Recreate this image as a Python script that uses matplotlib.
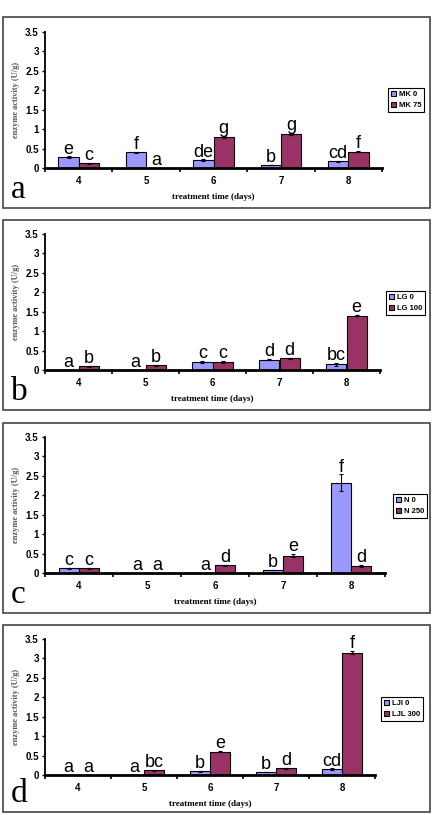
import matplotlib
matplotlib.use("Agg")
import matplotlib.pyplot as plt
from matplotlib.patches import Rectangle
import numpy as np

days = ["4", "5", "6", "7", "8"]

# panel a
mk0 = [0.28, 0.40, 0.20, 0.08, 0.17]
mk0_err = [0.02, 0.02, 0.02, 0.01, 0.02]
mk0_let = ["e", "f", "de", "b", "cd"]
mk75 = [0.12, 0.0, 0.80, 0.87, 0.42]
mk75_err = [0.01, 0.0, 0.02, 0.03, 0.02]
mk75_let = ["c", "a", "g", "g", "f"]

# panel b
lg0 = [0.0, 0.0, 0.20, 0.27, 0.15]
lg0_err = [0.0, 0.0, 0.03, 0.02, 0.04]
lg0_let = ["a", "a", "c", "d", "bc"]
lg100 = [0.10, 0.12, 0.20, 0.30, 1.40]
lg100_err = [0.01, 0.01, 0.03, 0.02, 0.02]
lg100_let = ["b", "b", "c", "d", "e"]

# panel c
n0 = [0.12, 0.0, 0.0, 0.08, 2.32]
n0_err = [0.02, 0.0, 0.0, 0.01, 0.22]
n0_let = ["c", "a", "a", "b", "f"]
n250 = [0.12, 0.0, 0.20, 0.45, 0.18]
n250_err = [0.02, 0.0, 0.01, 0.04, 0.02]
n250_let = ["c", "a", "d", "e", "d"]

# panel d
ljl0 = [0.0, 0.0, 0.10, 0.08, 0.15]
ljl0_err = [0.0, 0.0, 0.01, 0.01, 0.02]
ljl0_let = ["a", "a", "b", "b", "cd"]
ljl300 = [0.0, 0.12, 0.60, 0.17, 3.15]
ljl300_err = [0.0, 0.01, 0.02, 0.01, 0.04]
ljl300_let = ["a", "bc", "e", "d", "f"]

panels = [
    ("a", "MK 0", mk0, mk0_err, mk0_let, "MK 75", mk75, mk75_err, mk75_let),
    ("b", "LG 0", lg0, lg0_err, lg0_let, "LG 100", lg100, lg100_err, lg100_let),
    ("c", "N 0", n0, n0_err, n0_let, "N 250", n250, n250_err, n250_let),
    ("d", "LJl 0", ljl0, ljl0_err, ljl0_let, "LJL 300", ljl300, ljl300_err, ljl300_let),
]

# pixel layout: box (top, bottom), axes (x0, x1, ytop, ybot), legend (x0, ycenter)
boxes = [(17, 208), (220, 410), (423, 613), (625, 812)]
axboxes = [(45, 382, 32, 168), (45, 380, 234, 370), (45, 385, 437, 573), (45, 375, 639, 775)]
legpos = [(384, 100), (382, 303), (389, 506), (377, 709)]

W, H = 437, 815
fig = plt.figure(figsize=(W / 100, H / 100), dpi=100)

c0 = "#9999ff"
c1 = "#993366"
sans = "Liberation Sans"
serif = "Liberation Serif"

for i, (tag, n_a, v_a, e_a, l_a, n_b, v_b, e_b, l_b) in enumerate(panels):
    bt, bb = boxes[i]
    fig.patches.append(Rectangle((3 / W, 1 - bb / H), 427 / W, (bb - bt) / H,
                                 transform=fig.transFigure, fill=False,
                                 edgecolor="#444444", linewidth=1.2))
    x0, x1, yt, yb = axboxes[i]
    ax = fig.add_axes([x0 / W, 1 - yb / H, (x1 - x0) / W, (yb - yt) / H])
    x = np.arange(len(days))
    w = 0.3
    ax.bar(x - w / 2, v_a, w, color=c0, edgecolor="black", linewidth=0.8,
           yerr=e_a, capsize=1.5, error_kw=dict(elinewidth=0.8, capthick=0.8),
           label=n_a, zorder=2)
    ax.bar(x + w / 2, v_b, w, color=c1, edgecolor="black", linewidth=0.8,
           yerr=e_b, capsize=1.5, error_kw=dict(elinewidth=0.8, capthick=0.8),
           label=n_b, zorder=2)
    for j in range(len(days)):
        ax.annotate(l_a[j], (x[j] - w / 2, v_a[j] + e_a[j]), xytext=(0, 2),
                    textcoords="offset points", ha="center", va="baseline",
                    fontsize=13, family=sans)
        ax.annotate(l_b[j], (x[j] + w / 2, v_b[j] + e_b[j]), xytext=(0, 2),
                    textcoords="offset points", ha="center", va="baseline",
                    fontsize=13, family=sans)
    ax.set_xlim(-0.5, 4.5)
    ax.set_ylim(0, 3.5)
    ax.set_yticks(np.arange(0, 3.51, 0.5))
    ax.set_yticklabels(["0", "0.5", "1", "1.5", "2", "2.5", "3", "3.5"],
                       fontsize=7, fontweight="bold", family=sans)
    ax.set_xticks(np.arange(-0.5, 4.6, 1.0))
    ax.set_xticklabels([])
    ax.set_xticks(x, minor=True)
    ax.set_xticklabels(days, minor=True, fontsize=7, fontweight="bold", family=sans)
    ax.tick_params(axis="x", which="minor", length=0, pad=6)
    ax.tick_params(axis="x", which="major", length=3, width=1.2, direction="out")
    ax.tick_params(axis="y", length=2.5, width=1.0, direction="out", pad=2)
    ax.spines["top"].set_visible(False)
    ax.spines["right"].set_visible(False)
    ax.spines["bottom"].set_linewidth(2.0)
    ax.spines["left"].set_linewidth(1.3)
    ax.set_xlabel("treatment time (days)", fontsize=6.5, fontweight="bold",
                  family=serif, labelpad=5)
    ax.set_ylabel("enzyme activity (U/g)", fontsize=6, fontweight="bold",
                  family=serif, color="#555555", labelpad=4)
    lx, ly = legpos[i]
    leg = fig.legend(handles=ax.get_legend_handles_labels()[0],
                     labels=[n_a, n_b], loc="center left",
                     bbox_to_anchor=(lx / W, 1 - ly / H), frameon=True,
                     fancybox=False, edgecolor="black", framealpha=1,
                     prop=dict(family=sans, weight="bold", size=5.5),
                     handlelength=0.7, handleheight=0.7, handletextpad=0.3,
                     borderpad=0.4, labelspacing=0.4)
    leg.get_frame().set_linewidth(0.8)
    fig.text(11 / W, 1 - (bb - 10) / H, tag, fontsize=24, family=serif,
             ha="left", va="baseline")

fig.savefig("out.png", dpi=100)
